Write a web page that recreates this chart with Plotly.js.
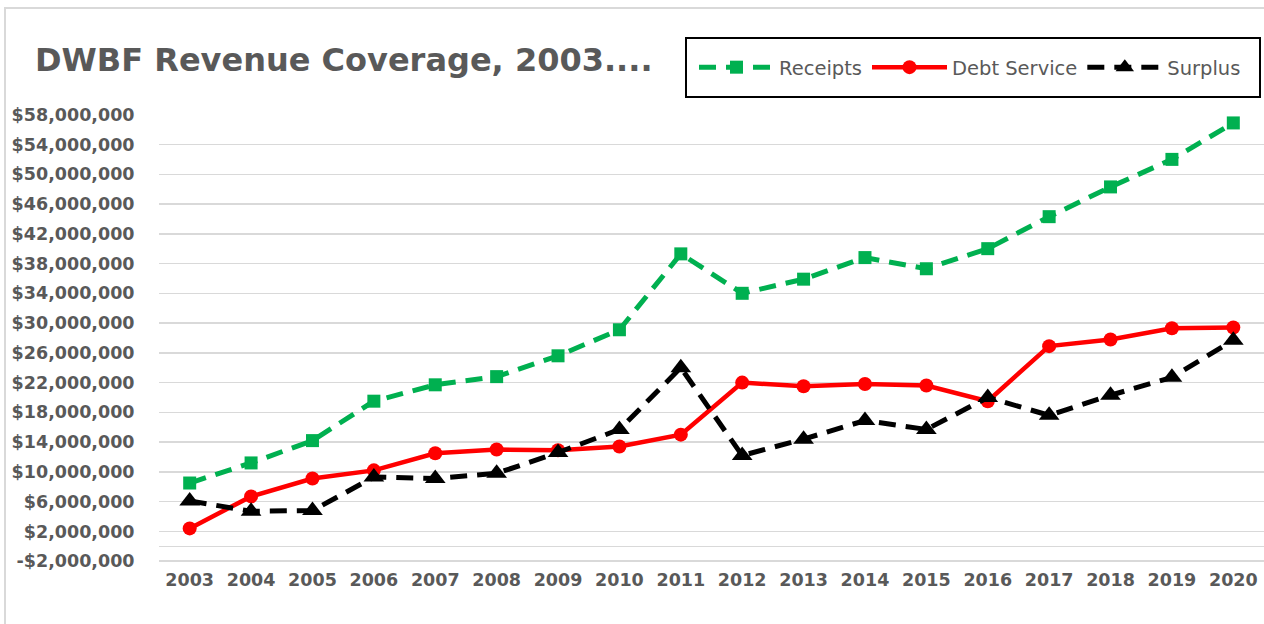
<!DOCTYPE html>
<html>
<head>
<meta charset="utf-8">
<script src="https://cdn.plot.ly/plotly-3.0.1.min.js"></script>
<style>
html,body{margin:0;padding:0;background:#fff;}
#chart{width:1264px;height:624px;}
</style>
</head>
<body>
<div id="chart"></div>
<script>
const years = ["2003","2004","2005","2006","2007","2008","2009","2010","2011","2012","2013","2014","2015","2016","2017","2018","2019","2020"];
const receipts = [8500000,11200000,14200000,19500000,21700000,22800000,25600000,29100000,39300000,34000000,35900000,38800000,37300000,40000000,44300000,48300000,52000000,56900000];
const debtService = [2400000,6700000,9100000,10200000,12500000,13000000,12900000,13400000,15000000,22000000,21500000,21800000,21600000,19500000,26900000,27800000,29300000,29400000];
const surplus = [6100000,4700000,4800000,9300000,9100000,9800000,12600000,15700000,24000000,12200000,14400000,16900000,15700000,20000000,17600000,20300000,22700000,27700000];
const yTickVals = [-2000000,2000000,6000000,10000000,14000000,18000000,22000000,26000000,30000000,34000000,38000000,42000000,46000000,50000000,54000000,58000000];
const yTickText = ["-$2,000,000","$2,000,000","$6,000,000","$10,000,000","$14,000,000","$18,000,000","$22,000,000","$26,000,000","$30,000,000","$34,000,000","$38,000,000","$42,000,000","$46,000,000","$50,000,000","$54,000,000","$58,000,000"];

const FONT = "DejaVu Sans";
const GRAY = "#595959";

// pixel -> paper helpers (plot area: x 159..1264, y 114..563)
const L = 159, W = 1105, T = 114, H = 449;
const px = v => (v - L) / W;
const py = v => (T + H - v) / H;

const traces = [
  {x: years, y: receipts, name: "Receipts", type: "scatter", mode: "lines+markers",
   line: {color: "#00b050", width: 5, dash: "17px,10px"},
   marker: {symbol: "square", size: 13, color: "#00b050"}},
  {x: years, y: debtService, name: "Debt Service", type: "scatter", mode: "lines+markers",
   line: {color: "#ff0000", width: 4.5},
   marker: {symbol: "circle", size: 14, color: "#ff0000"}},
  {x: years, y: surplus, name: "Surplus", type: "scatter", mode: "lines+markers",
   line: {color: "#000000", width: 5, dash: "17px,10px"},
   marker: {symbol: "triangle-up", size: 18, color: "#000000"}}
];

const layout = {
  width: 1264, height: 624,
  margin: {l: L, r: 0, t: T, b: 624 - T - H, pad: 0, autoexpand: false},
  paper_bgcolor: "#fff", plot_bgcolor: "#fff",
  showlegend: true,
  title: {text: "DWBF Revenue Coverage, 2003....",
    x: 35/1264, xref: "container", xanchor: "left",
    y: 1 - 60/624, yref: "container", yanchor: "middle",
    font: {family: FONT, size: 32, color: GRAY, weight: "bold"}},
  xaxis: {type: "category", range: [-0.5, 17.5], showgrid: false, showline: false, zeroline: false,
    ticks: "outside", ticklen: 1, tickcolor: "rgba(0,0,0,0)", tickangle: 0,
    tickfont: {family: FONT, size: 17.5, color: GRAY, weight: "bold"}, fixedrange: true},
  yaxis: {range: [-2250000, 58100000], tickmode: "array", tickvals: yTickVals, ticktext: yTickText,
    showgrid: true, gridcolor: "#d9d9d9", gridwidth: 1.5,
    zeroline: true, zerolinecolor: "#d9d9d9", zerolinewidth: 1.5, showline: false,
    ticks: "outside", ticklen: 20, tickcolor: "rgba(0,0,0,0)",
    tickfont: {family: FONT, size: 17.5, color: GRAY, weight: "bold"}, fixedrange: true},
  legend: {orientation: "h", x: px(694), y: py(67.5), xanchor: "left", yanchor: "middle",
    font: {family: FONT, size: 19.5, color: GRAY}, bgcolor: "rgba(0,0,0,0)", borderwidth: 0,
    itemwidth: 75, tracegroupgap: 0},
  shapes: [
    {type: "rect", xref: "paper", yref: "paper", x0: px(686), x1: px(1260), y0: py(97), y1: py(38),
     line: {color: "#000", width: 2}, fillcolor: "rgba(0,0,0,0)", layer: "above"},
    {type: "rect", xref: "paper", yref: "paper", x0: px(5), x1: px(1400), y0: py(800), y1: py(8),
     line: {color: "#d9d9d9", width: 2}, fillcolor: "rgba(0,0,0,0)", layer: "below"}
  ]
};

Plotly.newPlot("chart", traces, layout, {displayModeBar: false, staticPlot: true});
</script>
</body>
</html>
